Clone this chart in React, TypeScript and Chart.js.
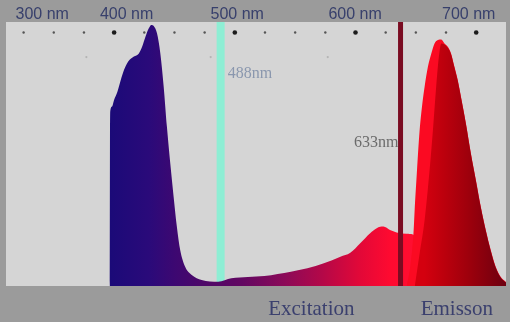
import React, { useEffect, useRef } from "react";
import { Chart, registerables } from "chart.js";

Chart.register(...registerables);

// ---- data (wavelength in nm, relative intensity 0..100) ----
const excitationNm = [398.5, 399, 400.3, 402.1, 404.8, 407.5, 410.1, 413.5, 418.1, 422.1, 424.7, 427.4, 430.1, 432.2, 434.1, 436.7, 439.4, 442.1, 444.7, 447.4, 450.1, 452.7, 455.4, 459.4, 464.7, 472.7, 486, 496.6, 510, 523.3, 544.6, 557.9, 571.2, 584.5, 592.5, 600.5, 608.5, 613.8, 619.2, 624.5, 629.8, 637.8, 643, 650, 656, 660];
const excitationVal = [0, 66, 67.9, 70.5, 73.6, 78, 81.8, 85, 86.9, 88.1, 90.6, 94.4, 97.6, 98.9, 98.5, 95.7, 88.1, 75.5, 60.3, 46.5, 33.8, 22.5, 13.6, 7.3, 4.2, 2.3, 1.6, 2.9, 3.4, 3.8, 5.4, 6.7, 8.6, 11.1, 12.6, 16.2, 20, 21.9, 22.5, 21.2, 20.3, 19.8, 19.5, 12, 4, 0];

const emissionNm = [638, 641, 643.5, 644.5, 645.8, 647.1, 648.4, 650.6, 652.4, 655.1, 657.8, 660.4, 663.1, 665.8, 668.4, 671.1, 673.7, 676.4, 679.1, 681.7, 685.7, 689.7, 693.7, 697.7, 701.7, 705.7, 709.7, 713.7, 718];
const emissionVal = [0, 8, 20.6, 30, 40.2, 50.3, 59.1, 69.2, 75.5, 83.1, 88.1, 91.9, 93.2, 93.4, 91.9, 90.6, 88.1, 83.1, 78, 71.7, 61.6, 50.3, 40.2, 30, 21.2, 13.6, 7.3, 3.5, 1.5];

const emissionShadeNm = [644.5, 648.4, 652.4, 656.4, 659.1, 661.7, 663.9, 665.8, 668.4, 671.1, 673.7, 676.4, 679.1, 681.7, 685.7, 689.7, 693.7, 697.7, 701.7, 705.7, 709.7, 713.7, 718];
const emissionShadeVal = [0, 12.4, 25, 43.9, 59.1, 75.5, 86.9, 91.9, 91.5, 90.2, 87.8, 82.8, 77.7, 71.4, 61.3, 50, 39.9, 29.7, 20.9, 13.3, 7, 3.2, 1.3];

const laserLines = [488, 633];
const laserLabels = ["488nm", "633nm"];
const laserLabelLevel = [78.8, 52.7];

// ruler (top row of dots) and its labels
const rulerNm = [325, 350, 375, 400, 425, 450, 475, 500, 525, 550, 575, 600, 625, 650, 675, 700];
const rulerLevel = 96;
const faintDotNm = [377, 480, 577];
const faintDotLevel = 86.7;
const topLabels = ["300 nm", "400 nm", "500 nm", "600 nm", "700 nm"];
const topLabelAt = [340.4, 410.3, 502, 599.7, 693.8];

const captions = ["Excitation", "Emisson"];
const captionAt = [561.1, 678.4];

// ---- styles ----
const excitationStops: [number, string][] = [
  [399, "#1b0a78"],
  [430, "#2a0a7a"],
  [450, "#3c0872"],
  [475, "#4e0868"],
  [505, "#620862"],
  [540, "#8c0a58"],
  [570, "#b40848"],
  [600, "#e20838"],
  [625, "#ff0a30"],
  [650, "#ff1030"],
];
const shadeStops: [number, string][] = [
  [652, "#d4000f"],
  [668, "#bc000d"],
  [690, "#9a000c"],
  [718, "#6c0010"],
];

const pts = (xs: number[], ys: number[]) => xs.map((x, i) => ({ x, y: ys[i] }));

function gradientFor(stops: [number, string][]) {
  return (c: any) => {
    const chart = c.chart;
    if (!chart.chartArea) return stops[0][1];
    const sx = chart.scales.x;
    const x0 = sx.getPixelForValue(stops[0][0]);
    const x1 = sx.getPixelForValue(stops[stops.length - 1][0]);
    const g = chart.ctx.createLinearGradient(x0, 0, x1, 0);
    stops.forEach(([nm, col]) => {
      const o = (sx.getPixelForValue(nm) - x0) / (x1 - x0);
      g.addColorStop(Math.min(1, Math.max(0, o)), col);
    });
    return g;
  };
}

const decor = {
  id: "decor",
  beforeDraw(chart: any) {
    const { ctx, chartArea: a, width, height } = chart;
    ctx.save();
    ctx.fillStyle = "#9b9b9b";
    ctx.fillRect(0, 0, width, height);
    ctx.fillStyle = "#d5d5d5";
    ctx.fillRect(a.left, a.top, a.right - a.left, a.bottom - a.top);
    ctx.restore();
  },
  afterDatasetsDraw(chart: any) {
    const { ctx, chartArea: a, scales } = chart;
    const x = scales.x;
    const xr = scales.xr;
    const y = scales.y;
    ctx.save();
    ctx.font = '16px "Liberation Sans", Arial, sans-serif';
    ctx.fillStyle = "#38406c";
    ctx.textAlign = "center";
    ctx.textBaseline = "middle";
    topLabels.forEach((t, i) => ctx.fillText(t, xr.getPixelForValue(topLabelAt[i]), a.top - 7));

    ctx.textBaseline = "alphabetic";
    ctx.font = '16px "Liberation Serif", "Times New Roman", serif';
    ctx.fillStyle = "#8a97ae";
    ctx.textAlign = "left";
    ctx.fillText(laserLabels[0], x.getPixelForValue(laserLines[0]) + 7, y.getPixelForValue(laserLabelLevel[0]));
    ctx.fillStyle = "#6b6b6b";
    ctx.textAlign = "right";
    ctx.fillText(laserLabels[1], x.getPixelForValue(laserLines[1]) - 2, y.getPixelForValue(laserLabelLevel[1]));

    ctx.font = '21px "Liberation Serif", "Times New Roman", serif';
    ctx.fillStyle = "#3b406e";
    ctx.textAlign = "center";
    captions.forEach((t, i) => ctx.fillText(t, x.getPixelForValue(captionAt[i]), a.bottom + 29));
    ctx.restore();
  },
};

export default function App() {
  const ref = useRef<HTMLCanvasElement | null>(null);

  useEffect(() => {
    if (!ref.current) return;
    const chart = new Chart(ref.current, {
      type: "line",
      data: {
        datasets: [
          {
            label: "488",
            data: [{ x: laserLines[0], y: 0 }, { x: laserLines[0], y: 100 }],
            borderColor: "#8eeed4",
            borderWidth: 8,
            pointRadius: 0,
            fill: false,
            order: 10,
          },
          {
            label: "Excitation",
            data: pts(excitationNm, excitationVal),
            backgroundColor: gradientFor(excitationStops),
            borderWidth: 0,
            pointRadius: 0,
            fill: "origin",
            cubicInterpolationMode: "monotone",
            order: 9,
          },
          {
            label: "Emission",
            data: pts(emissionNm, emissionVal),
            backgroundColor: "#fb0a22",
            borderWidth: 0,
            pointRadius: 0,
            fill: "origin",
            cubicInterpolationMode: "monotone",
            order: 8,
          },
          {
            label: "EmissionShade",
            data: pts(emissionShadeNm, emissionShadeVal),
            backgroundColor: gradientFor(shadeStops),
            borderWidth: 0,
            pointRadius: 0,
            fill: "origin",
            cubicInterpolationMode: "monotone",
            order: 7,
          },
          {
            label: "633",
            data: [{ x: laserLines[1], y: 0 }, { x: laserLines[1], y: 100 }],
            borderColor: "#7a0c22",
            borderWidth: 5,
            pointRadius: 0,
            fill: false,
            order: 6,
          },
          {
            label: "ruler",
            xAxisID: "xr",
            data: rulerNm.map((v) => ({ x: v, y: rulerLevel })),
            showLine: false,
            pointRadius: (c: any) => (c.raw && c.raw.x % 100 === 0 ? 2.3 : 1.2),
            pointBackgroundColor: (c: any) => (c.raw && c.raw.x % 100 === 0 ? "#1c1c1c" : "#555555"),
            pointBorderWidth: 0,
            order: 5,
          },
          {
            label: "faint",
            xAxisID: "xr",
            data: faintDotNm.map((v) => ({ x: v, y: faintDotLevel })),
            showLine: false,
            pointRadius: 1.1,
            pointBackgroundColor: "#b4b4b4",
            pointBorderWidth: 0,
            order: 4,
          },
        ],
      },
      options: {
        animation: false,
        responsive: false,
        events: [],
        layout: { padding: { left: 6, right: 0, top: 22, bottom: 36 } },
        plugins: { legend: { display: false }, tooltip: { enabled: false } },
        scales: {
          x: { type: "linear", min: 315, max: 718, display: false },
          xr: { type: "linear", axis: "x", min: 310.4, max: 724.7, display: false },
          y: { type: "linear", min: 0, max: 100, display: false },
        },
      },
      plugins: [decor],
    } as any);
    return () => chart.destroy();
  }, []);

  return (
    <div style={{ position: "fixed", left: 0, top: 0, width: 510, height: 322 }}>
      <canvas ref={ref} width={510} height={322} style={{ display: "block" }} />
    </div>
  );
}
